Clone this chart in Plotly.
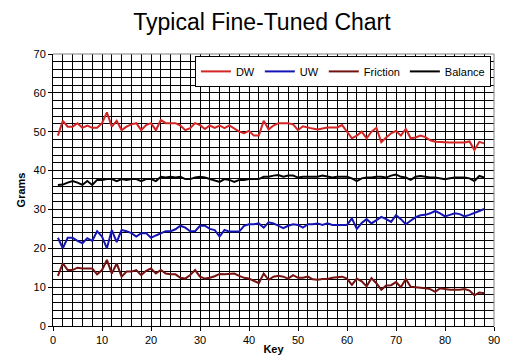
import plotly.graph_objects as go

keys = list(range(1, 89))

dw = [49.0, 52.8, 51.3, 51.3, 52.2, 51.0, 51.6, 51.0, 51.0, 52.2,
      55.0, 51.3, 52.8, 50.4, 51.3, 51.9, 52.2, 50.4, 51.7, 52.2,
      50.4, 53.0, 52.2, 52.2, 52.2, 51.6, 50.4, 50.9, 52.2, 51.7,
      50.7, 51.6, 51.0, 51.6, 50.9, 51.6, 50.9, 50.0, 49.6, 50.2,
      49.0, 49.0, 52.8, 50.6, 51.6, 52.2, 52.2, 52.2, 51.9, 50.4,
      51.4, 51.0, 50.8, 50.6, 50.9, 51.1, 51.1, 51.1, 51.7, 50.0,
      48.3, 49.0, 50.0, 48.3, 50.0, 51.0, 47.3, 48.5, 49.6, 50.2,
      49.0, 50.7, 48.3, 48.5, 49.0, 48.6, 47.8, 47.4, 47.3, 47.2,
      47.2, 47.2, 47.2, 47.2, 47.5, 45.3, 47.4, 47.0]

uw = [22.7, 20.0, 22.7, 22.7, 21.9, 21.3, 22.6, 21.9, 24.4, 23.0,
      20.0, 24.7, 21.6, 24.7, 24.4, 23.9, 23.0, 23.9, 23.9, 22.7,
      23.3, 23.9, 24.4, 24.4, 24.9, 25.8, 25.3, 24.4, 24.4, 25.8,
      25.8, 25.0, 24.7, 23.0, 24.7, 24.3, 24.3, 24.3, 25.8, 26.2,
      26.2, 26.4, 25.3, 26.7, 26.4, 25.8, 25.2, 25.8, 26.2, 26.0,
      25.3, 26.2, 26.2, 26.4, 26.0, 26.4, 26.0, 26.0, 26.0, 26.0,
      27.7, 25.0, 26.5, 27.5, 26.4, 27.2, 28.1, 27.5, 26.8, 28.5,
      27.5, 26.2, 27.2, 28.0, 28.5, 28.6, 29.0, 29.6, 29.0, 28.2,
      28.6, 29.0, 28.8, 28.2, 28.6, 29.0, 29.6, 30.1]

friction = [12.9, 16.1, 14.4, 14.4, 15.0, 14.8, 14.8, 14.8, 13.3, 14.4,
            17.0, 13.5, 16.1, 12.7, 14.0, 14.0, 14.4, 13.1, 14.2, 14.8,
            13.5, 14.4, 13.5, 13.3, 13.3, 12.4, 12.2, 13.1, 14.4, 12.7,
            12.2, 12.4, 12.8, 13.4, 13.3, 13.4, 13.5, 12.9, 12.4, 12.2,
            11.7, 11.0, 13.5, 11.9, 12.7, 12.9, 12.7, 12.2, 13.1, 12.4,
            12.4, 12.7, 12.0, 11.9, 12.1, 12.1, 12.4, 12.5, 12.7, 12.2,
            10.6, 12.2, 11.5, 10.2, 12.3, 11.0, 9.3, 10.4, 10.5, 11.3,
            10.0, 12.1, 10.1, 10.0, 9.9, 9.7, 9.5, 8.8, 9.7, 9.5,
            9.3, 9.3, 9.3, 9.5, 9.1, 7.9, 8.6, 8.4]

balance = [36.3, 36.4, 36.9, 37.3, 36.9, 36.3, 37.3, 36.3, 37.6, 37.6,
           37.8, 37.8, 37.3, 37.8, 37.6, 37.8, 37.8, 37.3, 37.8, 37.8,
           37.3, 38.4, 38.2, 38.4, 38.2, 38.4, 37.8, 37.8, 38.2, 38.4,
           38.2, 37.8, 37.6, 37.1, 37.8, 37.6, 37.1, 37.6, 37.6, 37.8,
           37.8, 37.8, 38.4, 38.4, 38.7, 38.85, 38.4, 38.7, 38.7, 38.2,
           38.4, 38.4, 38.4, 38.4, 38.7, 38.4, 38.2, 38.4, 38.4, 38.4,
           38.0, 37.3, 38.0, 38.2, 38.2, 38.4, 38.4, 38.2, 38.7, 39.0,
           38.4, 38.2, 37.6, 38.4, 38.6, 38.4, 38.2, 38.2, 38.0, 37.8,
           38.0, 38.2, 38.2, 38.2, 38.0, 37.3, 38.6, 38.2]

series_names = ["DW", "UW", "Friction", "Balance"]
series_values = [dw, uw, friction, balance]
series_colors = ["#d42424", "#1414b4", "#741010", "#000000"]

x_ticks = [0, 10, 20, 30, 40, 50, 60, 70, 80, 90]
y_ticks = [0, 10, 20, 30, 40, 50, 60, 70]

FONT = "Liberation Sans, Arial, sans-serif"

fig = go.Figure()
for name, vals, col in zip(series_names, series_values, series_colors):
    fig.add_trace(go.Scatter(x=keys, y=vals, mode="lines", name=name,
                             line=dict(color=col, width=2)))

fig.update_layout(
    width=509, height=356,
    margin=dict(l=45, r=23, t=46, b=38),
    paper_bgcolor="white", plot_bgcolor="white",
    font=dict(family=FONT, size=11, color="black"),
    title=dict(text="Typical Fine-Tuned Chart", x=0.499, xanchor="center",
               y=0.96, yanchor="middle",
               font=dict(family=FONT, size=23, color="black")),
    legend=dict(orientation="h", x=0.993, xanchor="right", y=0.993, yanchor="top",
                bgcolor="white", bordercolor="black", borderwidth=1,
                font=dict(family=FONT, size=11, color="black"),
                itemwidth=30, tracegroupgap=0),
    showlegend=True,
)

fig.update_xaxes(
    range=[0, 90], tickvals=x_ticks, ticktext=[str(v) for v in x_ticks],
    showgrid=True, gridcolor="black", gridwidth=1,
    minor=dict(dtick=2, showgrid=True, gridcolor="black", gridwidth=1),
    showline=True, linecolor="black", linewidth=1,
    ticks="outside", ticklen=4, tickcolor="black",
    zeroline=False, automargin=False,
    title=dict(text="<b>Key</b>", standoff=0, font=dict(family=FONT, size=11)),
)
fig.update_yaxes(
    range=[0, 70], tickvals=y_ticks, ticktext=[str(v) for v in y_ticks],
    showgrid=True, gridcolor="black", gridwidth=1,
    minor=dict(dtick=2, showgrid=True, gridcolor="black", gridwidth=1),
    showline=True, linecolor="black", linewidth=1,
    ticks="outside", ticklen=4, tickcolor="black",
    zeroline=False, automargin=False,
    title=dict(text="<b>Grams</b>", standoff=5, font=dict(family=FONT, size=11)),
)

# plot-area border (gray top/right edges)
fig.add_shape(type="line", xref="x domain", yref="y domain", x0=0, x1=1, y0=1, y1=1,
              line=dict(color="#808080", width=1), layer="above")
fig.add_shape(type="line", xref="x domain", yref="y domain", x0=1, x1=1, y0=0, y1=1,
              line=dict(color="#808080", width=1), layer="above")

fig.write_html("out.html")
